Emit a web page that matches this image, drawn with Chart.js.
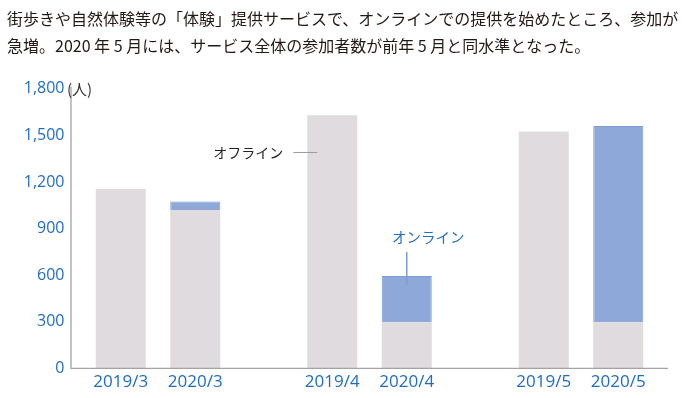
<!DOCTYPE html>
<html>
<head>
<meta charset="utf-8">
<script src="https://cdn.jsdelivr.net/npm/chart.js@4/dist/chart.umd.min.js"></script>
<style>
  html, body { margin: 0; padding: 0; background: #fff; }
  #wrap { width: 689px; height: 398px; position: relative; }
</style>
</head>
<body>
<div id="wrap"><canvas id="c" width="689" height="398"></canvas></div>
<script>
// ---- data ----
const months = ['3', '4', '5'];
const labels2019 = ['2019/3', '2019/4', '2019/5'];
const labels2020 = ['2020/3', '2020/4', '2020/5'];
const offline2019 = [1155, 1630, 1525];
const offline2020 = [1020, 295, 295];
const online2020 = [55, 300, 1265];
const yTicks = [0, 300, 600, 900, 1200, 1500, 1800];
const titleLines = [
  '街歩きや自然体験等の「体験」提供サービスで、オンラインでの提供を始めたところ、参加が',
  '急増。2020 年 5 月には、サービス全体の参加者数が前年 5 月と同水準となった。'
];
const unitLabel = '(人)';
const offlineLabel = 'オフライン';
const onlineLabel = 'オンライン';

// ---- style ----
const BLUE_TEXT = '#1f6cc2';
const OFF_COLOR = '#e0dbde';
const ON_COLOR = '#8ea9d9';
const ON_BORDER = '#7f9bd2';
const AXIS_COLOR = '#a3a3a3';
const JP = '"Noto Sans CJK JP", "Noto Sans", sans-serif';
const NUM = '"Open Sans", "Noto Sans", sans-serif';

const decor = {
  id: 'decor',
  afterDatasetsDraw(chart) {
    const ctx = chart.ctx;
    const ca = chart.chartArea;
    const ys = chart.scales.y;
    const inset = 18.75;
    const axisX = ca.left + inset;
    const topY = ys.getPixelForValue(yTicks[yTicks.length - 1]);
    ctx.save();
    // axis lines
    ctx.strokeStyle = AXIS_COLOR;
    ctx.lineWidth = 1.3;
    ctx.beginPath();
    ctx.moveTo(axisX, topY - 2);
    ctx.lineTo(axisX, ca.bottom);
    ctx.lineTo(ca.right - inset, ca.bottom);
    ctx.stroke();

    // y tick labels
    const fmt = new Intl.NumberFormat('en-US');
    ctx.fillStyle = BLUE_TEXT;
    ctx.font = '16px ' + NUM;
    ctx.textAlign = 'right';
    ctx.textBaseline = 'middle';
    yTicks.forEach(v => ctx.fillText(fmt.format(v), axisX - 6.5, ys.getPixelForValue(v)));

    // unit label
    ctx.fillStyle = '#333';
    ctx.font = '15px ' + JP;
    ctx.textAlign = 'left';
    ctx.fillText(unitLabel, axisX - 4, topY);

    // category labels
    const m19 = chart.getDatasetMeta(0);
    const m20 = chart.getDatasetMeta(1);
    ctx.fillStyle = BLUE_TEXT;
    ctx.font = '17px ' + NUM;
    ctx.textAlign = 'center';
    m19.data.forEach((b, i) => ctx.fillText(labels2019[i], b.x, ca.bottom + 13.5));
    m20.data.forEach((b, i) => ctx.fillText(labels2020[i], b.x, ca.bottom + 13.5));

    // offline annotation
    const b0 = m19.data[1];
    const left = b0.x - b0.width / 2;
    const ay = ys.getPixelForValue(1390);
    ctx.strokeStyle = '#9a9a9a';
    ctx.lineWidth = 1;
    ctx.beginPath();
    ctx.moveTo(left - 14, ay);
    ctx.lineTo(left + 10, ay);
    ctx.stroke();
    ctx.fillStyle = '#222';
    ctx.font = '14px ' + JP;
    ctx.textAlign = 'right';
    ctx.fillText(offlineLabel, left - 24, ay);

    // online annotation
    const b2 = chart.getDatasetMeta(2).data[1];
    ctx.strokeStyle = '#7f9bd2';
    ctx.lineWidth = 1.5;
    ctx.beginPath();
    ctx.moveTo(b2.x, b2.y - 24);
    ctx.lineTo(b2.x, b2.y + 9);
    ctx.stroke();
    ctx.fillStyle = BLUE_TEXT;
    ctx.font = '14.5px ' + JP;
    ctx.textAlign = 'center';
    ctx.fillText(onlineLabel, b2.x + 21.5, b2.y - 38);
    ctx.restore();
  }
};

new Chart(document.getElementById('c'), {
  type: 'bar',
  data: {
    labels: months,
    datasets: [
      { label: '2019 ' + offlineLabel, data: offline2019, stack: 's2019',
        backgroundColor: OFF_COLOR, borderColor: OFF_COLOR, borderWidth: 0 },
      { label: '2020 ' + offlineLabel, data: offline2020, stack: 's2020',
        backgroundColor: OFF_COLOR, borderColor: OFF_COLOR, borderWidth: 0 },
      { label: '2020 ' + onlineLabel, data: online2020, stack: 's2020',
        backgroundColor: ON_COLOR, borderColor: ON_BORDER, borderWidth: 1, borderSkipped: 'bottom' }
    ]
  },
  options: {
    responsive: false,
    animation: false,
    locale: 'en-US',
    categoryPercentage: 0.7045,
    barPercentage: 0.671,
    layout: { padding: { left: 7, right: 2.25, top: 0, bottom: 29.7 } },
    plugins: {
      legend: { display: false },
      tooltip: { enabled: false },
      title: {
        display: true,
        text: titleLines,
        align: 'start',
        color: '#231815',
        font: { family: JP, size: 16, weight: 'normal', lineHeight: 27 / 16 },
        padding: { top: 5.5, bottom: 29.3 }
      }
    },
    scales: {
      x: { display: false, stacked: true },
      y: {
        stacked: true,
        min: 0,
        max: 1800,
        afterFit(scale) { scale.width = 45.25; },
        border: { display: false },
        grid: { display: false, drawTicks: false },
        ticks: { display: false, stepSize: 300 }
      }
    }
  },
  plugins: [decor]
});
</script>
</body>
</html>
